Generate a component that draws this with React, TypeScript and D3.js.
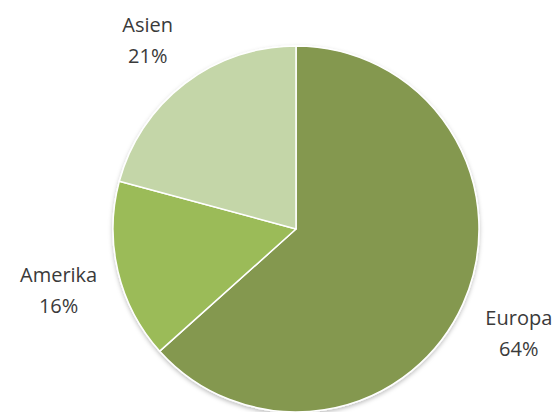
import * as d3 from "d3";
import { useEffect, useRef } from "react";

const regions = ["Europa", "Amerika", "Asien"];
const shares = [64, 16, 21];
const colors = ["#84984f", "#9bbb59", "#c4d6a8"];

export default function App() {
    const svgRef = useRef<SVGSVGElement | null>(null);

    useEffect(() => {
        if (!svgRef.current) return;

        const totalW = 555;
        const totalH = 412;
        const cx = 296;
        const cy = 229;
        const r = 183;

        const svg = d3.select(svgRef.current);
        svg.attr("width", totalW).attr("height", totalH);
        svg.selectAll("*").remove();

        const defs = svg.append("defs");
        const filter = defs.append("filter").attr("id", "shadow")
            .attr("x", "-10%").attr("y", "-10%").attr("width", "120%").attr("height", "120%");
        filter.append("feDropShadow")
            .attr("dx", 0).attr("dy", 2)
            .attr("stdDeviation", 2)
            .attr("flood-color", "#000")
            .attr("flood-opacity", 0.25);

        const data = regions.map((name, i) => ({ name, value: shares[i], color: colors[i] }));

        const pie = d3.pie<typeof data[number]>()
            .value((d) => d.value)
            .sort(null);

        const arcs = pie(data);

        const arc = d3.arc<d3.PieArcDatum<typeof data[number]>>()
            .innerRadius(0)
            .outerRadius(r);

        const g = svg.append("g").attr("transform", `translate(${cx},${cy})`);

        g.append("g")
            .attr("filter", "url(#shadow)")
            .selectAll("path")
            .data(arcs)
            .join("path")
            .attr("d", arc)
            .attr("fill", (d) => d.data.color)
            .attr("stroke", "#ffffff")
            .attr("stroke-width", 1.5)
            .attr("stroke-linejoin", "round");

        // labels outside the slices
        const labelR = 244;
        const lineGap = 31;
        const labels = g.append("g")
            .attr("font-family", "'Open Sans', sans-serif")
            .attr("font-size", 20)
            .attr("fill", "#3a3a3a")
            .attr("text-anchor", "middle");

        arcs.forEach((d) => {
            const mid = (d.startAngle + d.endAngle) / 2;
            const lx = labelR * Math.sin(mid);
            const ly = -labelR * Math.cos(mid) + 5;
            const t = labels.append("text").attr("transform", `translate(${lx},${ly})`);
            t.append("tspan").attr("x", 0).attr("y", -8).text(d.data.name);
            t.append("tspan").attr("x", 0).attr("y", -8 + lineGap).text(`${d.data.value}%`);
        });
    }, []);

    return <svg ref={svgRef} style={{ position: "absolute", left: 0, top: 0 }} />;
}
